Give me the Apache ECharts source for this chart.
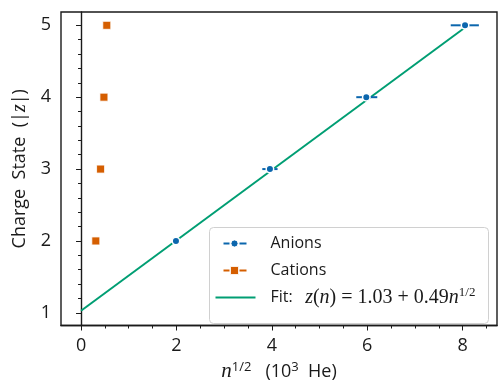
<!DOCTYPE html>
<html>
<head>
<meta charset="utf-8">
<script src="https://cdn.jsdelivr.net/npm/echarts@6/dist/echarts.min.js"></script>
<style>
  html, body { margin: 0; padding: 0; background: #fff; }
  #chart { width: 498px; height: 387px; }
</style>
</head>
<body>
<div id="chart"></div>
<script>
// anions: charge state vs n^(1/2), with horizontal error bars
const anionZ = [2, 3, 4, 5];
const anionX = [1.99, 3.96, 5.98, 8.05];
const anionXLo = [1.95, 3.80, 5.77, 7.75];
const anionXHi = [2.03, 4.12, 6.21, 8.34];
// cations
const cationZ = [2, 3, 4, 5];
const cationX = [0.31, 0.41, 0.48, 0.54];
// fit line z(n) = 1.03 + 0.49 n^(1/2)
const fitX = [0, 8.05];
const fitZ = [1.03, 4.97];
// ticks
const xMajor = [0, 2, 4, 6, 8];
const xMinor = [0.5, 1, 1.5, 2.5, 3, 3.5, 4.5, 5, 5.5, 6.5, 7, 7.5, 8.5];
const yMajor = [1, 2, 3, 4, 5];
const yMinor = [1.2, 1.4, 1.6, 1.8, 2.2, 2.4, 2.6, 2.8, 3.2, 3.4, 3.6, 3.8, 4.2, 4.4, 4.6, 4.8];

const BLUE = '#0b66ad';
const ORANGE = '#d55e00';
const GREEN = '#009e73';
const FONT = 'Open Sans';
const MATH = 'Liberation Serif';
const INK = '#1a1a1a';

const chart = echarts.init(document.getElementById('chart'));

const axisCommon = {
  type: 'value',
  splitLine: { show: false },
  axisLine: { show: true, lineStyle: { color: INK, width: 1.4 } }
};

const option = {
  animation: false,
  backgroundColor: '#fff',
  grid: {
    left: 61, right: 1, top: 12, bottom: 61,
    show: true, borderColor: INK, borderWidth: 1.4
  },
  xAxis: [
    Object.assign({}, axisCommon, {
      min: -0.42, max: 8.72,
      axisTick: { show: true, customValues: xMajor, length: 5, lineStyle: { color: INK, width: 1 } },
      axisLabel: { customValues: xMajor, margin: 11, fontSize: 18, fontFamily: FONT, color: INK },
      name: '{m|n}{sup|1/2}{t|   (10}{sup|3}{t|  He)}',
      nameLocation: 'middle',
      nameGap: 35,
      nameTextStyle: {
        rich: {
          m: { fontFamily: MATH, fontStyle: 'italic', fontSize: 21, color: INK },
          t: { fontFamily: FONT, fontSize: 18, color: INK },
          sup: { fontFamily: FONT, fontSize: 13, color: INK, verticalAlign: 'top', padding: [0, 0, 9, 0] }
        }
      }
    }),
    Object.assign({}, axisCommon, {
      min: -0.42, max: 8.72, position: 'bottom',
      axisLine: { show: false },
      axisTick: { show: true, customValues: xMinor, length: 3, lineStyle: { color: INK, width: 1 } },
      axisLabel: { show: false }
    })
  ],
  yAxis: [
    Object.assign({}, axisCommon, {
      min: 0.824, max: 5.185,
      axisTick: { show: true, customValues: yMajor, length: 5, lineStyle: { color: INK, width: 1 } },
      axisLabel: { customValues: yMajor, margin: 10, fontSize: 18, fontFamily: FONT, color: INK },
      name: '{t|Charge  State  (|}{m|z}{t||)}',
      nameLocation: 'middle',
      nameGap: 30,
      nameTextStyle: {
        rich: {
          t: { fontFamily: FONT, fontSize: 18, color: INK },
          m: { fontFamily: MATH, fontStyle: 'italic', fontSize: 20, color: INK }
        }
      }
    }),
    Object.assign({}, axisCommon, {
      min: 0.824, max: 5.185, position: 'left',
      axisLine: { show: false },
      axisTick: { show: true, customValues: yMinor, length: 3, lineStyle: { color: INK, width: 1 } },
      axisLabel: { show: false }
    })
  ],
  series: [
    {
      name: 'Fit',
      type: 'line',
      data: fitX.map((x, i) => [x, fitZ[i]]),
      showSymbol: false,
      lineStyle: { color: GREEN, width: 2 },
      z: 2
    },
    {
      name: 'Anion errors',
      type: 'custom',
      data: anionZ.map((z, i) => [anionXLo[i], anionXHi[i], z]),
      renderItem: function (params, api) {
        const a = api.coord([api.value(0), api.value(2)]);
        const b = api.coord([api.value(1), api.value(2)]);
        return {
          type: 'line',
          shape: { x1: a[0], y1: a[1], x2: b[0], y2: b[1] },
          style: { stroke: BLUE, lineWidth: 2 }
        };
      },
      z: 3
    },
    {
      name: 'Anions',
      type: 'scatter',
      data: anionZ.map((z, i) => [anionX[i], z]),
      symbol: 'circle',
      symbolSize: 7.5,
      itemStyle: { color: BLUE, borderColor: '#fff', borderWidth: 1.5, opacity: 1 },
      z: 4
    },
    {
      name: 'Cations',
      type: 'scatter',
      data: cationZ.map((z, i) => [cationX[i], z]),
      symbol: 'rect',
      symbolSize: 8,
      itemStyle: { color: ORANGE, borderColor: '#fff', borderWidth: 0.8, opacity: 1 },
      z: 4
    }
  ],
  graphic: [
    {
      type: 'group',
      left: 209, top: 227,
      children: [
        { type: 'rect', shape: { x: 0, y: 0, width: 279, height: 96, r: 4 },
          style: { fill: 'rgba(255,255,255,0.85)', stroke: '#d0d0d0', lineWidth: 1 } },
        // Anions icon
        { type: 'rect', shape: { x: 14, y: 15, width: 6, height: 2 }, style: { fill: BLUE } },
        { type: 'rect', shape: { x: 30, y: 15, width: 7, height: 2 }, style: { fill: BLUE } },
        { type: 'circle', shape: { cx: 25, cy: 16, r: 3.6 }, style: { fill: BLUE, stroke: '#fff', lineWidth: 1 } },
        { type: 'text', x: 61, y: 16, style: { text: 'Anions', fill: INK, font: '16px "Open Sans"', verticalAlign: 'middle' } },
        // Cations icon
        { type: 'rect', shape: { x: 14, y: 42, width: 6, height: 2 }, style: { fill: ORANGE } },
        { type: 'rect', shape: { x: 30, y: 42, width: 7, height: 2 }, style: { fill: ORANGE } },
        { type: 'rect', shape: { x: 21, y: 39, width: 8, height: 8 }, style: { fill: ORANGE, stroke: '#fff', lineWidth: 0.8 } },
        { type: 'text', x: 61, y: 43, style: { text: 'Cations', fill: INK, font: '16px "Open Sans"', verticalAlign: 'middle' } },
        // Fit icon
        { type: 'line', shape: { x1: 6, y1: 70, x2: 46, y2: 70 }, style: { stroke: GREEN, lineWidth: 2 } },
        { type: 'text', x: 61, y: 70, style: {
            text: '{t|Fit:   }{m|z}{r|(}{m|n}{r|) = 1.03 + 0.49}{m|n}{sup|1/2}',
            verticalAlign: 'middle',
            rich: {
              t: { fontFamily: FONT, fontSize: 16, fill: INK },
              m: { fontFamily: MATH, fontStyle: 'italic', fontSize: 20, fill: INK },
              r: { fontFamily: MATH, fontSize: 20, fill: INK },
              sup: { fontFamily: MATH, fontSize: 13, fill: INK, verticalAlign: 'top', padding: [0, 0, 9, 0] }
            }
          } }
      ]
    }
  ]
};

chart.setOption(option);
window.addEventListener('resize', () => {
  chart.resize();
});
</script>
</body>
</html>
